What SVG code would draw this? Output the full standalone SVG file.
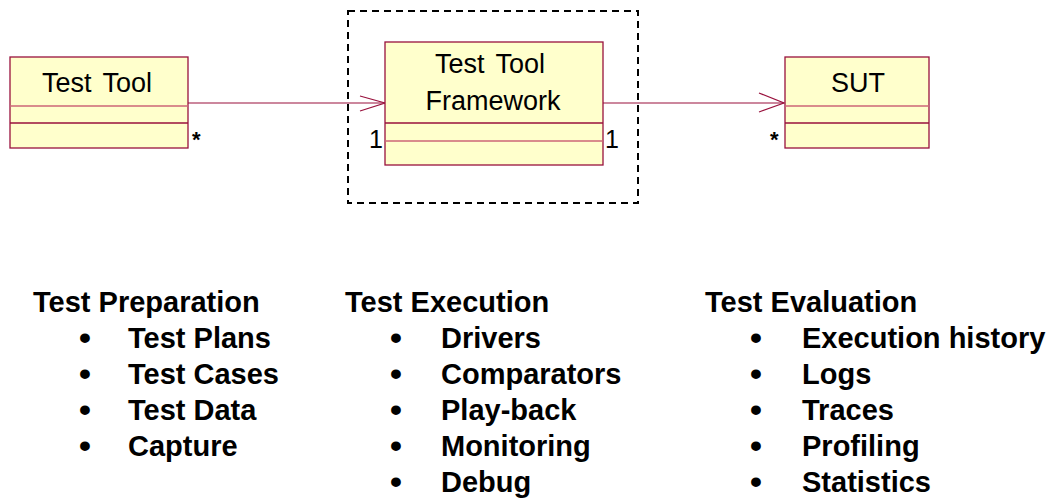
<svg xmlns="http://www.w3.org/2000/svg" width="1053" height="498" viewBox="0 0 1053 498">
<style>
.box{fill:#FFFFCC;stroke:#99113D;stroke-width:1.3}
.div1{stroke:#CC6677;stroke-width:1.3}
.div2{stroke:#99113D;stroke-width:1.3}
.cls{font-family:"Liberation Sans",Arial,sans-serif;font-size:27px;fill:#000;text-anchor:middle;word-spacing:4px}
.mult{font-family:"Liberation Sans",Arial,sans-serif;font-size:25px;fill:#000}
.star{font-family:"Liberation Sans",Arial,sans-serif;font-size:22px;font-weight:bold;fill:#000}
.conn{stroke:#99113D;stroke-width:1.2;fill:none}
.list{font-family:"Liberation Sans",Arial,sans-serif;font-size:29px;font-weight:bold;fill:#000}
.b{font-size:34px}
</style>
<rect x="0" y="0" width="1053" height="498" fill="#fff"/>
<rect id="boundary" x="348" y="11" width="290" height="192" fill="none" stroke="#000" stroke-width="2" stroke-dasharray="7,5"/>
<g id="connectors">
  <line class="conn" x1="188" y1="103" x2="385" y2="103"/>
  <polyline class="conn" points="360,96 385,103 360,111"/>
  <line class="conn" x1="603" y1="103" x2="784" y2="103"/>
  <polyline class="conn" points="759,93 784,103 759,112"/>
  <text class="star" x="192" y="147">*</text>
  <text class="mult" x="369" y="148">1</text>
  <text class="mult" x="605" y="148">1</text>
  <text class="star" x="770" y="147">*</text>
</g>
<g id="testtool">
  <rect class="box" x="10" y="57" width="178" height="91"/>
  <line class="div1" x1="10" y1="106" x2="188" y2="106"/>
  <line class="div2" x1="10" y1="123" x2="188" y2="123"/>
  <text class="cls" x="97" y="92">Test Tool</text>
</g>
<g id="framework">
  <rect class="box" x="385" y="42" width="218" height="123"/>
  <line class="div2" x1="385" y1="123" x2="603" y2="123"/>
  <line class="div1" x1="385" y1="141" x2="603" y2="141"/>
  <text class="cls" x="490" y="73">Test Tool</text>
  <text class="cls" x="493" y="110">Framework</text>
</g>
<g id="sut">
  <rect class="box" x="785" y="57" width="144" height="91"/>
  <line class="div1" x1="785" y1="106" x2="929" y2="106"/>
  <line class="div2" x1="785" y1="123" x2="929" y2="123"/>
  <text class="cls" x="858" y="92">SUT</text>
</g>
<g id="preparation" class="list">
  <text x="33" y="312">Test Preparation</text>
  <text class="b" x="79" y="349">•</text><text x="128" y="348">Test Plans</text>
  <text class="b" x="79" y="385">•</text><text x="128" y="384">Test Cases</text>
  <text class="b" x="79" y="421">•</text><text x="128" y="420">Test Data</text>
  <text class="b" x="79" y="457">•</text><text x="128" y="456">Capture</text>
</g>
<g id="execution" class="list">
  <text x="345" y="312">Test Execution</text>
  <text class="b" x="390" y="349">•</text><text x="441" y="348">Drivers</text>
  <text class="b" x="390" y="385">•</text><text x="441" y="384">Comparators</text>
  <text class="b" x="390" y="421">•</text><text x="441" y="420">Play-back</text>
  <text class="b" x="390" y="457">•</text><text x="441" y="456">Monitoring</text>
  <text class="b" x="390" y="493">•</text><text x="441" y="492">Debug</text>
</g>
<g id="evaluation" class="list">
  <text x="705" y="312">Test Evaluation</text>
  <text class="b" x="750" y="349">•</text><text x="802" y="348">Execution history</text>
  <text class="b" x="750" y="385">•</text><text x="802" y="384">Logs</text>
  <text class="b" x="750" y="421">•</text><text x="802" y="420">Traces</text>
  <text class="b" x="750" y="457">•</text><text x="802" y="456">Profiling</text>
  <text class="b" x="750" y="493">•</text><text x="802" y="492">Statistics</text>
</g>
</svg>
